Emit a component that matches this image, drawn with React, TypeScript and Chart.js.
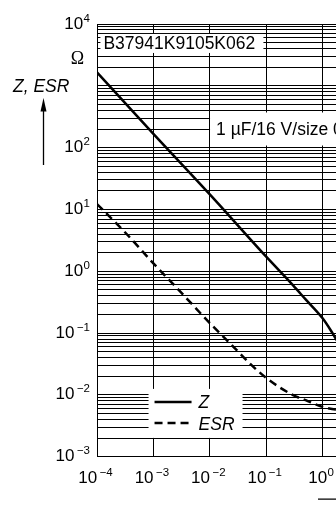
import { useEffect, useRef } from "react";
import { Chart, registerables } from "chart.js";

Chart.register(...registerables);

// Frequency in MHz, impedance and ESR in ohm
const FREQ_Z = [1e-4, 1e-3, 1e-2, 1e-1, 0.3, 0.5, 1, 1.4, 1.7, 2];
const Z_OHM = [1650, 167, 17.5, 1.72, 0.59, 0.35, 0.173, 0.11, 0.082, 0.064];

const FREQ_ESR = [1e-4, 3e-4, 1e-3, 3e-3, 1e-2, 3e-2, 5e-2, 1e-1, 0.3, 0.5, 1, 1.7, 2];
const ESR_OHM = [12.2, 4.46, 1.34, 0.468, 0.145, 0.053, 0.033, 0.0188, 0.0099, 0.0082, 0.0064, 0.00582, 0.0058];

// Decade exponents used for the axis labels (10^3 makes room for the unit)
const X_EXPONENTS = [-4, -3, -2, -1, 0, 1, 2];
const Y_EXPONENTS = [-3, -2, -1, 0, 1, 2, 4];

const PART_NUMBER = "B37941K9105K062";
const RATING = "1 µF/16 V/size 0603";
const Y_TITLE = "Z, ESR";
const Y_UNIT = "Ω";
const X_TITLE = "f";
const LEGEND_Z = "Z";
const LEGEND_ESR = "ESR";

const SANS = '"Liberation Sans", Arial, Helvetica, sans-serif';
const SERIF = '"Liberation Serif", "Times New Roman", serif';

const CANVAS_W = 460;
const CANVAS_H = 511;

const pow10 = (e: number) => Number(Math.pow(10, e).toPrecision(6));

const yTickValues: number[] = [];
for (let e = -3; e < 4; e++) {
  for (let m = 1; m <= 9; m++) yTickValues.push(Number((m * Math.pow(10, e)).toPrecision(4)));
}
yTickValues.push(1e4);

function drawPower(
  ctx: CanvasRenderingContext2D,
  exp: number,
  x: number,
  baseline: number,
  align: "right" | "center"
) {
  const base = "10";
  const sup = exp < 0 ? "\u2212" + Math.abs(exp) : String(exp);
  ctx.font = `17px ${SANS}`;
  const bw = ctx.measureText(base).width;
  ctx.font = `11.5px ${SANS}`;
  const sw = ctx.measureText(sup).width;
  const gap = exp < 0 ? 2.5 : 0.5;
  const total = bw + gap + sw;
  const left = align === "right" ? x - total : x - total / 2;
  ctx.textAlign = "left";
  ctx.textBaseline = "alphabetic";
  ctx.font = `17px ${SANS}`;
  ctx.fillText(base, left, baseline);
  ctx.font = `11.5px ${SANS}`;
  ctx.fillText(sup, left + bw + gap, baseline - 7);
}

const annotations = {
  id: "annotations",
  beforeDatasetsDraw(chart: any) {
    const ctx: CanvasRenderingContext2D = chart.ctx;
    const xs = chart.scales.x;
    const ys = chart.scales.y;
    ctx.save();
    ctx.fillStyle = "#fff";
    // part number box
    const pnX = xs.getPixelForValue(1.15e-4);
    ctx.fillRect(pnX, ys.getPixelForValue(6.9e3), 163, 19);
    // rating box
    const rX = xs.getPixelForValue(1.01e-2);
    ctx.fillRect(rX, ys.getPixelForValue(3.7e2), 260, 33);
    // legend box
    const lgX = xs.getPixelForValue(8.2e-4);
    ctx.fillRect(lgX, ys.getPixelForValue(1.25e-2), 94, 49);

    ctx.fillStyle = "#000";
    ctx.textAlign = "left";
    ctx.textBaseline = "alphabetic";
    ctx.font = `17.5px ${SANS}`;
    ctx.fillText(PART_NUMBER, pnX + 3, ys.getPixelForValue(6.9e3) + 15.5);
    ctx.fillText(RATING, rX + 6, ys.getPixelForValue(3.7e2) + 22);

    // legend
    const lx0 = lgX + 6;
    const ly0 = ys.getPixelForValue(1.25e-2);
    ctx.strokeStyle = "#000";
    ctx.lineWidth = 2.5;
    ctx.beginPath();
    ctx.moveTo(lx0, ly0 + 13);
    ctx.lineTo(lx0 + 37, ly0 + 13);
    ctx.stroke();
    ctx.setLineDash([8, 5]);
    ctx.beginPath();
    ctx.moveTo(lx0, ly0 + 34);
    ctx.lineTo(lx0 + 37, ly0 + 34);
    ctx.stroke();
    ctx.setLineDash([]);
    ctx.font = `italic 17.5px ${SANS}`;
    ctx.fillText(LEGEND_Z, lx0 + 44, ly0 + 19.5);
    ctx.fillText(LEGEND_ESR, lx0 + 44, ly0 + 41.5);
    ctx.restore();
  },
  afterDraw(chart: any) {
    const ctx: CanvasRenderingContext2D = chart.ctx;
    const xs = chart.scales.x;
    const ys = chart.scales.y;
    const area = chart.chartArea;
    ctx.save();
    ctx.fillStyle = "#000";
    // y tick labels
    for (const e of Y_EXPONENTS) {
      const py = ys.getPixelForValue(pow10(e));
      drawPower(ctx, e, area.left - 7, py + 4.5, "right");
    }
    // x tick labels
    for (const e of X_EXPONENTS) {
      const px = xs.getPixelForValue(pow10(e));
      drawPower(ctx, e, px - 1.5, area.bottom + 26, "center");
    }
    // y title, unit and arrow
    ctx.textAlign = "left";
    ctx.textBaseline = "alphabetic";
    ctx.font = `italic 17.5px ${SANS}`;
    ctx.fillText(Y_TITLE, 13, 91.5);
    ctx.font = `18px ${SERIF}`;
    ctx.textAlign = "center";
    ctx.fillText(Y_UNIT, 77.5, 63.5);

    ctx.strokeStyle = "#000";
    ctx.lineWidth = 1.3;
    ctx.beginPath();
    ctx.moveTo(43.5, 165);
    ctx.lineTo(43.5, 108);
    ctx.stroke();
    ctx.beginPath();
    ctx.moveTo(43.5, 98);
    ctx.lineTo(46.5, 111.5);
    ctx.lineTo(40.5, 111.5);
    ctx.closePath();
    ctx.fill();

    // x title with arrow
    const ay = area.bottom + 42.5;
    ctx.beginPath();
    ctx.moveTo(318, ay);
    ctx.lineTo(372, ay);
    ctx.stroke();
    ctx.beginPath();
    ctx.moveTo(384, ay);
    ctx.lineTo(371, ay - 3);
    ctx.lineTo(371, ay + 3);
    ctx.closePath();
    ctx.fill();
    ctx.font = `italic 17.5px ${SANS}`;
    ctx.textAlign = "left";
    ctx.fillText(X_TITLE, 390, ay + 6);
    ctx.restore();
  },
};

export default function App() {
  const canvasRef = useRef<HTMLCanvasElement | null>(null);

  useEffect(() => {
    const canvas = canvasRef.current;
    if (!canvas) return;
    const gridColor = "#000";
    const chart = new Chart(canvas, {
      type: "line",
      data: {
        datasets: [
          {
            label: LEGEND_Z,
            data: FREQ_Z.map((f, i) => ({ x: f, y: Z_OHM[i] })),
            borderColor: "#000",
            borderWidth: 2.5,
            pointRadius: 0,
            fill: false,
            cubicInterpolationMode: "monotone",
            borderCapStyle: "butt",
          },
          {
            label: LEGEND_ESR,
            data: FREQ_ESR.map((f, i) => ({ x: f, y: ESR_OHM[i] })),
            borderColor: "#000",
            borderWidth: 2.5,
            borderDash: [8, 5],
            pointRadius: 0,
            fill: false,
            cubicInterpolationMode: "monotone",
            borderCapStyle: "butt",
          },
        ],
      },
      options: {
        animation: false,
        responsive: false,
        devicePixelRatio: 1,
        layout: { padding: { left: 97, top: 24, right: CANVAS_W - 435.4, bottom: CANVAS_H - 456.7 } },
        plugins: {
          legend: { display: false },
          tooltip: { enabled: false },
        },
        scales: {
          x: {
            type: "logarithmic",
            min: 1e-4,
            max: 1e2,
            afterBuildTicks: (scale: any) => {
              scale.ticks = X_EXPONENTS.map((e) => ({ value: pow10(e) }));
            },
            ticks: { display: false },
            grid: { color: gridColor, lineWidth: 1, drawTicks: false },
            border: { display: true, color: "#000", width: 1 },
          },
          y: {
            type: "logarithmic",
            min: 1e-3,
            max: 1e4,
            afterBuildTicks: (scale: any) => {
              scale.ticks = yTickValues.map((v) => ({ value: v }));
            },
            ticks: { display: false },
            grid: { color: gridColor, lineWidth: 1, drawTicks: false },
            border: { display: true, color: "#000", width: 1 },
          },
        },
      },
      plugins: [annotations],
    } as any);
    return () => chart.destroy();
  }, []);

  return (
    <div
      style={{
        position: "fixed",
        left: 0,
        top: 0,
        width: 336,
        height: 511,
        overflow: "hidden",
        background: "#fff",
      }}
    >
      <canvas ref={canvasRef} width={CANVAS_W} height={CANVAS_H} style={{ display: "block" }} />
    </div>
  );
}
